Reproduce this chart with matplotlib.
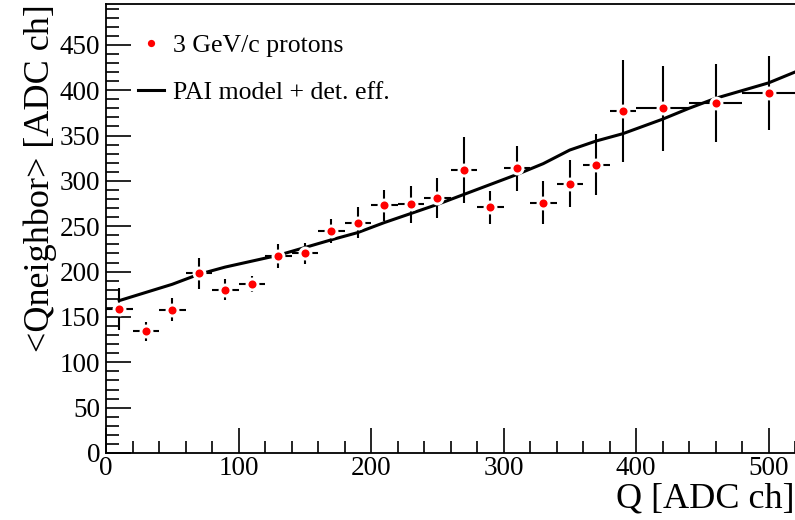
import matplotlib
matplotlib.use("Agg")
import matplotlib.pyplot as plt
from matplotlib.ticker import MultipleLocator
import numpy as np

# Data points: 3 GeV/c protons
q_points = [10, 30, 50, 70, 90, 110, 130, 150, 170, 190, 210, 230, 250,
            270, 290, 310, 330, 350, 370, 390, 420, 460, 500]
q_halfwidth = [10]*20 + [20, 20, 20]
neighbor = [159, 134, 158, 198, 180, 186, 217, 220, 245, 254, 273, 274, 281,
            312, 271, 314, 276, 297, 318, 377, 380, 386, 397]
neighbor_err = [23, 10, 12.5, 17, 11.5, 9, 13, 12, 13, 17, 17, 20, 22,
                36, 18, 25, 23.5, 26, 34, 56, 47, 43, 41]

# PAI model + det. eff.
q_model = [10, 30, 50, 70, 90, 130, 170, 190, 210, 230, 250, 270, 290, 310,
           330, 350, 370, 390, 420, 440, 460, 500, 520]
model = [168, 177, 186, 197, 205, 218, 235, 243, 254, 264, 274, 285, 296, 307,
         319, 334, 344, 352, 368, 380, 391, 408, 420]

plt.rcParams['font.family'] = ['Liberation Serif', 'DejaVu Serif']
plt.rcParams['mathtext.fontset'] = 'stix'

fig = plt.figure(figsize=(7.95, 5.2), dpi=100)
ax = fig.add_axes([106/795, 67/520, 1 - 106/795, (453-4)/520])

ax.plot(q_model, model, color='black', lw=2.2, zorder=2,
        label='PAI model + det. eff.')
ax.errorbar(q_points, neighbor, xerr=q_halfwidth, yerr=neighbor_err,
            fmt='none', ecolor='black', elinewidth=1.5, capsize=0, zorder=3)
ax.plot(q_points, neighbor, 'o', color='white', markersize=10,
        markeredgewidth=0, zorder=4)
ax.plot(q_points, neighbor, 'o', color='#ff0000', markersize=5.8,
        markeredgewidth=0, zorder=5, label='3 GeV/c protons')

ax.set_xlim(0, 520)
ax.set_ylim(0, 495)
ax.xaxis.set_major_locator(MultipleLocator(100))
ax.xaxis.set_minor_locator(MultipleLocator(20))
ax.yaxis.set_major_locator(MultipleLocator(50))
ax.yaxis.set_minor_locator(MultipleLocator(10))
ax.tick_params(which='both', direction='in', top=False, right=False,
               labelsize=19.5, width=1.2)
ax.tick_params(which='major', length=18)
ax.tick_params(which='minor', length=9)
ax.tick_params(axis='x', pad=2)
ax.tick_params(axis='y', pad=4)
for s in ax.spines.values():
    s.set_linewidth(1.3)
ax.spines['right'].set_visible(False)

ax.set_xlabel('Q [ADC ch]', fontsize=26, labelpad=-4)
ax.xaxis.set_label_coords(1.0, -0.065)
ax.xaxis.label.set_horizontalalignment('right')
ax.set_ylabel('<Qneighbor> [ADC ch]', fontsize=26, loc='top', labelpad=2)

handles, labels = ax.get_legend_handles_labels()
ax.legend([handles[1], handles[0]], [labels[1], labels[0]],
          loc='upper left', bbox_to_anchor=(0.032, 0.955), frameon=False,
          fontsize=18.5, handlelength=1.0, handletextpad=0.35, labelspacing=0.9,
          markerscale=0.9, borderaxespad=0)

fig.savefig('out.png', dpi=100)
